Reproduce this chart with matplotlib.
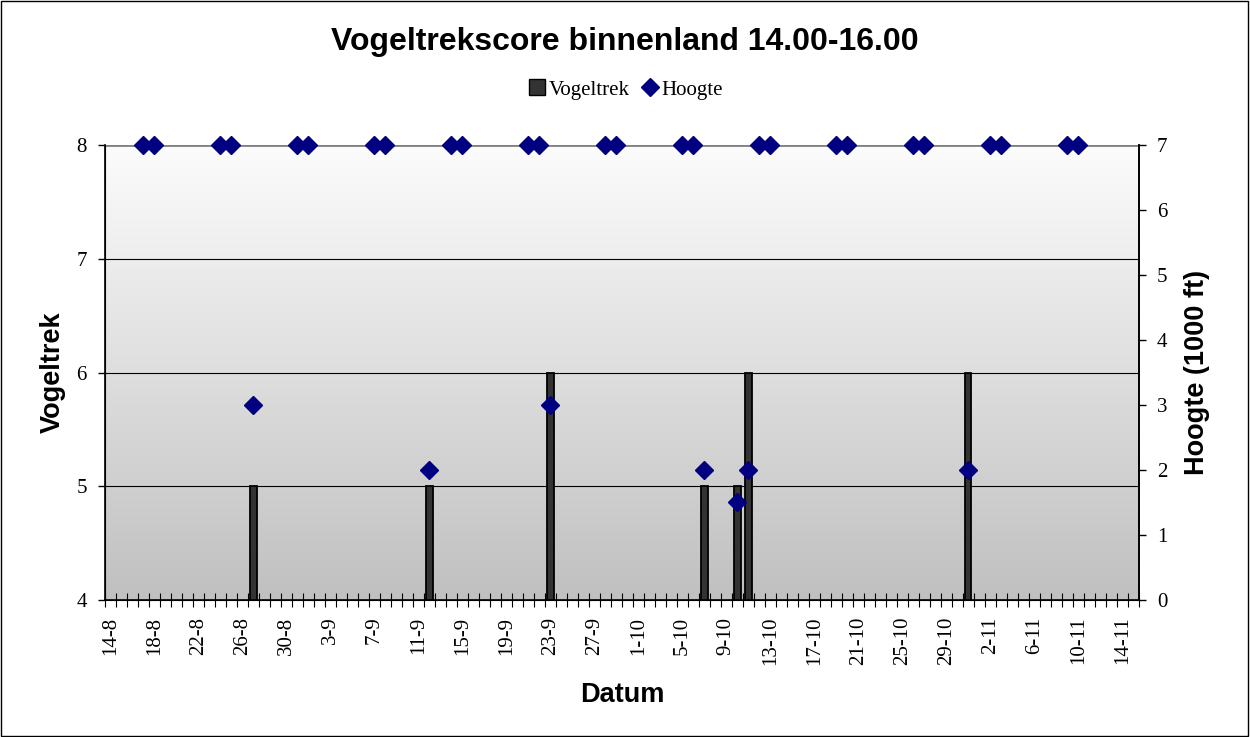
import numpy as np
import pandas as pd
import matplotlib
matplotlib.use("Agg")
import matplotlib.pyplot as plt
from matplotlib.patches import Rectangle
from matplotlib.lines import Line2D
from matplotlib.colors import LinearSegmentedColormap

# ---- data ----
dates = pd.date_range("2007-08-14", "2007-11-15", freq="D")
categories = [f"{d.day}-{d.month}" for d in dates]

bar_dates = ["27-8", "12-9", "23-9", "7-10", "10-10", "11-10", "31-10"]
bar_values = [5, 5, 6, 5, 5, 6, 6]

hoogte_dates = ["17-8", "18-8", "24-8", "25-8", "27-8", "31-8", "1-9", "7-9", "8-9",
                "12-9", "14-9", "15-9", "21-9", "22-9", "23-9", "28-9", "29-9",
                "5-10", "6-10", "7-10", "10-10", "11-10", "12-10", "13-10",
                "19-10", "20-10", "26-10", "27-10", "31-10", "2-11", "3-11",
                "9-11", "10-11"]
hoogte_values = [7, 7, 7, 7, 3, 7, 7, 7, 7,
                 2, 7, 7, 7, 7, 3, 7, 7,
                 7, 7, 2, 1.5, 2, 7, 7,
                 7, 7, 7, 7, 2, 7, 7,
                 7, 7]

left_ticks = [4, 5, 6, 7, 8]
right_ticks = [0, 1, 2, 3, 4, 5, 6, 7]

# ---- figure ----
serif = ["Liberation Serif", "DejaVu Serif"]
sans = ["Liberation Sans", "DejaVu Sans"]

fig = plt.figure(figsize=(12.5, 7.37), dpi=100)
fig.patches.append(Rectangle((0.0005, 0.001), 0.998, 0.997, transform=fig.transFigure,
                             fill=False, edgecolor="black", linewidth=1.0))

ax = fig.add_axes([0.084, 0.186, 0.827, 0.617])
pos = {c: i for i, c in enumerate(categories)}
n = len(categories)

# gradient background
grad = np.linspace(0, 1, 256).reshape(-1, 1)
cmap = LinearSegmentedColormap.from_list("g", ["#c0c0c0", "#fcfcfc"])
ax.imshow(grad, aspect="auto", cmap=cmap, origin="lower",
          extent=(-0.5, n - 0.5, 4, 8), zorder=0)

ax.set_xlim(-0.5, n - 0.5)
ax.set_ylim(4, 8)

for yv in [5, 6, 7]:
    ax.axhline(yv, color="black", linewidth=0.8, zorder=1)
ax.axhline(8, color="#808080", linewidth=2, zorder=1)

bx = [pos[d] for d in bar_dates]
ax.bar(bx, bar_values, width=0.58, color="#333333", edgecolor="black",
       linewidth=1.3, zorder=2)

ax.set_yticks(left_ticks)
ax.set_yticklabels([str(t) for t in left_ticks], fontfamily=serif, fontsize=15)
ax.tick_params(axis="y", direction="out", length=5, width=1, pad=8)

ax.set_xticks(np.arange(0, n, 4))
ax.set_xticklabels([categories[i] for i in range(0, n, 4)], rotation=90,
                   fontfamily=serif, fontsize=15)
ax.tick_params(axis="x", which="major", length=0, pad=12)
ax.set_xticks(np.arange(-0.5, n, 1), minor=True)
ax.tick_params(axis="x", which="minor", direction="inout", length=10, width=0.8)

for s in ["left", "bottom", "right"]:
    ax.spines[s].set_linewidth(1.2)
ax.spines["top"].set_visible(False)

ax.set_ylabel("Vogeltrek", fontfamily=sans, fontsize=19.5, fontweight="bold", labelpad=8)
ax.set_xlabel("Datum", fontfamily=sans, fontsize=19.5, fontweight="bold", labelpad=12)

ax2 = ax.twinx()
ax2.set_ylim(0, 7)
hx = [pos[d] for d in hoogte_dates]
ax2.plot(hx, hoogte_values, linestyle="none", marker="D", markersize=9,
         color="#000080", zorder=5, clip_on=False)
ax2.set_yticks(right_ticks)
ax2.set_yticklabels([str(t) for t in right_ticks], fontfamily=serif, fontsize=15)
ax2.tick_params(axis="y", direction="out", length=5, width=1, pad=8)
ax2.spines["top"].set_visible(False)
ax2.spines["right"].set_linewidth(1.2)
ax2.set_ylabel("Hoogte (1000 ft)", fontfamily=sans, fontsize=19.5, fontweight="bold",
               labelpad=12)

fig.text(0.5, 0.943, "Vogeltrekscore binnenland 14.00-16.00", ha="center", va="center",
         fontfamily=sans, fontsize=23, fontweight="bold")

handles = [Line2D([], [], linestyle="none", marker="s", markersize=11,
                  markerfacecolor="#333333", markeredgecolor="black"),
           Line2D([], [], linestyle="none", marker="D", markersize=9, color="#000080")]
fig.legend(handles, ["Vogeltrek", "Hoogte"], loc="center", bbox_to_anchor=(0.5, 0.878),
           ncol=2, frameon=False, prop={"family": serif, "size": 15},
           handletextpad=0.05, columnspacing=0.5, handlelength=1.0)

fig.savefig("out.png", dpi=100)
